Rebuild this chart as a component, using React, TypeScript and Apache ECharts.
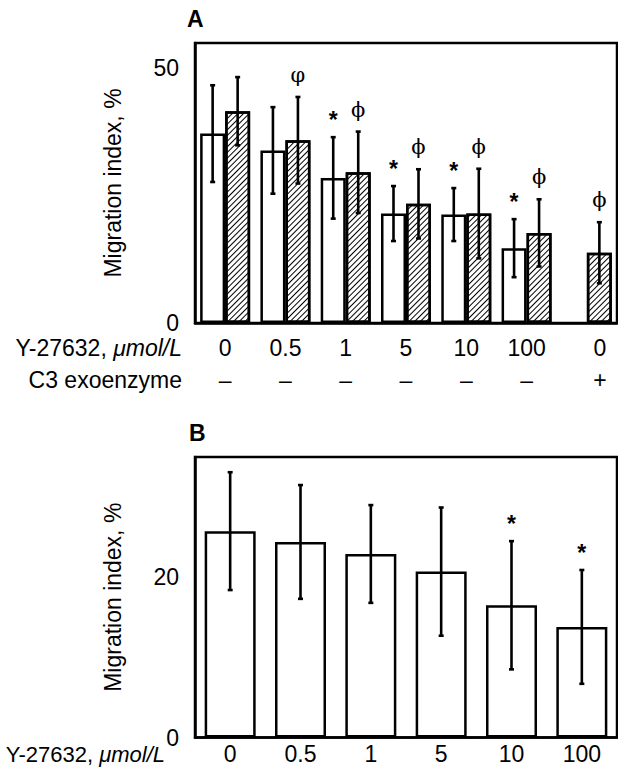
import React, { useEffect, useRef } from 'react';
import * as echarts from 'echarts';

// ---- Panel A data ----
const dosesA = ['0', '0.5', '1', '5', '10', '100', '0'];
const c3Signs = ['–', '–', '–', '–', '–', '–', '+'];
const meanWhiteA: (number | null)[] = [37.2, 33.9, 28.5, 21.5, 21.3, 14.7, null];
const sdWhiteA: (number | null)[] = [9.5, 8.5, 8.0, 5.4, 5.2, 5.7, null];
const markWhiteA = ['', '', '*', '*', '*', '*', ''];
const meanHatchA = [41.6, 35.9, 29.6, 23.4, 21.5, 17.7, 13.8];
const sdHatchA = [6.7, 8.5, 8.0, 6.8, 8.8, 6.6, 6.0];
const markHatchA = ['', 'φ', 'ϕ', 'ϕ', 'ϕ', 'ϕ', 'ϕ'];
const yMaxA = 55;
const yIntervalA = 50;

// ---- Panel B data ----
const dosesB = ['0', '0.5', '1', '5', '10', '100'];
const meanB = [25.75, 24.4, 22.9, 20.7, 16.5, 13.8];
const sdB = [7.35, 7.1, 6.1, 8.0, 8.0, 7.1];
const markB = ['', '', '', '', '*', '*'];
const yMaxB = 35;
const yIntervalB = 20;

const FONT = "'Liberation Sans', Arial, Helvetica, sans-serif";
const FS = 23;
const BAR_A = 25;
const BAR_B = 51;

function errorSeries(
  means: (number | null)[],
  sds: (number | null)[],
  marks: string[],
  offset: number,
  axisIndex: number
) {
  const data: number[][] = [];
  const markList: string[] = [];
  means.forEach((m, i) => {
    if (m == null) return;
    data.push([i, m, sds[i] as number]);
    markList.push(marks[i]);
  });
  return {
    type: 'custom',
    xAxisIndex: axisIndex,
    yAxisIndex: axisIndex,
    z: 10,
    silent: true,
    data,
    renderItem: (params: any, api: any) => {
      const x = api.value(0);
      const m = api.value(1);
      const sd = api.value(2);
      const top = api.coord([x, m + sd]);
      const bot = api.coord([x, m - sd]);
      const cx = top[0] + offset;
      const ls = { stroke: '#000', lineWidth: 2.6 };
      const children: any[] = [
        { type: 'line', shape: { x1: cx, y1: top[1], x2: cx, y2: bot[1] }, style: ls },
        { type: 'line', shape: { x1: cx - 2.5, y1: top[1], x2: cx + 2.5, y2: top[1] }, style: ls },
        { type: 'line', shape: { x1: cx - 2.5, y1: bot[1], x2: cx + 2.5, y2: bot[1] }, style: ls },
      ];
      const mk = markList[params.dataIndex];
      if (mk) {
        const isStar = mk === '*';
        children.push({
          type: 'text',
          style: {
            text: mk,
            x: cx,
            y: top[1] - (isStar ? 17 : 22),
            align: 'center',
            verticalAlign: 'middle',
            fontSize: isStar ? 23 : 21,
            fontFamily: isStar ? FONT : "'DejaVu Serif', serif",
            fontWeight: isStar ? 'bold' : 'normal',
            fill: '#000',
          },
        });
      }
      return { type: 'group', children };
    },
  };
}

export default function App() {
  const ref = useRef<HTMLDivElement>(null);

  useEffect(() => {
    if (!ref.current) return;
    const chart = echarts.init(ref.current, null, { renderer: 'svg' });

    const hatch = {
      symbol: 'rect',
      symbolSize: 1,
      dashArrayX: [1, 0],
      dashArrayY: [1, 2.2],
      rotation: -Math.PI / 4,
      color: '#000',
    };

    const axisText = { fontSize: FS, fontFamily: FONT, color: '#000' };

    const option: any = {
      animation: false,
      backgroundColor: '#fff',
      grid: [
        { left: 195, width: 422, top: 43, height: 280, show: true, borderColor: '#000', borderWidth: 2.5, backgroundColor: 'transparent' },
        { left: 195, width: 422, top: 457, height: 280.5, show: true, borderColor: '#000', borderWidth: 2.5, backgroundColor: 'transparent' },
      ],
      xAxis: [
        {
          type: 'category',
          gridIndex: 0,
          data: dosesA,
          axisLine: { lineStyle: { color: '#000', width: 2.5 } },
          axisTick: { show: false },
          axisLabel: {
            ...axisText,
            interval: 0,
            margin: 9,
            lineHeight: 32,
            formatter: (v: string, i: number) =>
              i === dosesA.length - 1
                ? `{sh|${v}}\n{sh|${c3Signs[i]}}`
                : `${v}\n${c3Signs[i]}`,
            rich: {
              sh: { fontSize: FS, fontFamily: FONT, color: '#000', lineHeight: 32, padding: [0, 0, 0, 26] },
            },
          },
        },
        {
          type: 'category',
          gridIndex: 1,
          data: dosesB,
          axisLine: { lineStyle: { color: '#000', width: 2.5 } },
          axisTick: { show: false },
          axisLabel: { ...axisText, interval: 0, margin: 8, lineHeight: 16 },
        },
      ],
      yAxis: [
        {
          type: 'value',
          gridIndex: 0,
          min: 0,
          max: yMaxA,
          interval: yIntervalA,
          name: 'Migration index, %',
          nameLocation: 'middle',
          nameGap: 71,
          nameTextStyle: { fontSize: FS, fontFamily: FONT, color: '#000' },
          axisLine: { show: true, lineStyle: { color: '#000', width: 2.5 } },
          axisTick: { show: false },
          splitLine: { show: false },
          axisLabel: { ...axisText, margin: 16, showMaxLabel: false, lineHeight: 16 },
        },
        {
          type: 'value',
          gridIndex: 1,
          min: 0,
          max: yMaxB,
          interval: yIntervalB,
          name: 'Migration index, %',
          nameLocation: 'middle',
          nameGap: 71,
          nameTextStyle: { fontSize: FS, fontFamily: FONT, color: '#000' },
          axisLine: { show: true, lineStyle: { color: '#000', width: 2.5 } },
          axisTick: { show: false },
          splitLine: { show: false },
          axisLabel: { ...axisText, margin: 16, showMaxLabel: false, lineHeight: 15 },
        },
      ],
      series: [
        {
          type: 'bar',
          name: 'Y-27632',
          xAxisIndex: 0,
          yAxisIndex: 0,
          data: meanWhiteA,
          barWidth: BAR_A,
          barGap: '0%',
          itemStyle: { color: '#fff', borderColor: '#000', borderWidth: 2.5 },
        },
        {
          type: 'bar',
          name: 'Y-27632 + C3',
          xAxisIndex: 0,
          yAxisIndex: 0,
          data: meanHatchA,
          barWidth: BAR_A,
          barGap: '0%',
          itemStyle: { color: '#fff', borderColor: '#000', borderWidth: 2.5, decal: hatch },
        },
        {
          type: 'bar',
          name: 'B',
          xAxisIndex: 1,
          yAxisIndex: 1,
          data: meanB,
          barWidth: BAR_B,
          itemStyle: { color: '#fff', borderColor: '#000', borderWidth: 2.5 },
        },
        errorSeries(meanWhiteA, sdWhiteA, markWhiteA, -BAR_A / 2, 0),
        errorSeries(meanHatchA, sdHatchA, markHatchA, BAR_A / 2, 0),
        errorSeries(meanB, sdB, markB, 0, 1),
      ],
      graphic: [
        { type: 'text', x: 187, y: 19, style: { text: 'A', fontSize: 23, fontWeight: 'bold', fontFamily: FONT, fill: '#000', verticalAlign: 'middle' } },
        { type: 'text', x: 189, y: 433, style: { text: 'B', fontSize: 23, fontWeight: 'bold', fontFamily: FONT, fill: '#000', verticalAlign: 'middle' } },
        {
          type: 'text', x: 182, y: 348,
          style: {
            text: 'Y-27632, {i|μmol/L}', fontSize: FS, fontFamily: FONT, fill: '#000', align: 'right', verticalAlign: 'middle', lineHeight: 16,
            rich: { i: { fontSize: FS, fontFamily: FONT, fontStyle: 'italic', fill: '#000', lineHeight: 16 } },
          },
        },
        { type: 'text', x: 182, y: 380, style: { text: 'C3 exoenzyme', fontSize: FS, fontFamily: FONT, fill: '#000', align: 'right', verticalAlign: 'middle', lineHeight: 16 } },
        {
          type: 'text', x: 165, y: 754,
          style: {
            text: 'Y-27632, {i|μmol/L}', fontSize: 22, fontFamily: FONT, fill: '#000', align: 'right', verticalAlign: 'middle', lineHeight: 15,
            rich: { i: { fontSize: 22, fontFamily: FONT, fontStyle: 'italic', fill: '#000', lineHeight: 15 } },
          },
        },
      ],
    };

    chart.setOption(option);
    return () => chart.dispose();
  }, []);

  return (
    <div
      ref={ref}
      style={{ position: 'absolute', left: 0, top: 0, width: 618, height: 776, background: '#fff' }}
    />
  );
}
